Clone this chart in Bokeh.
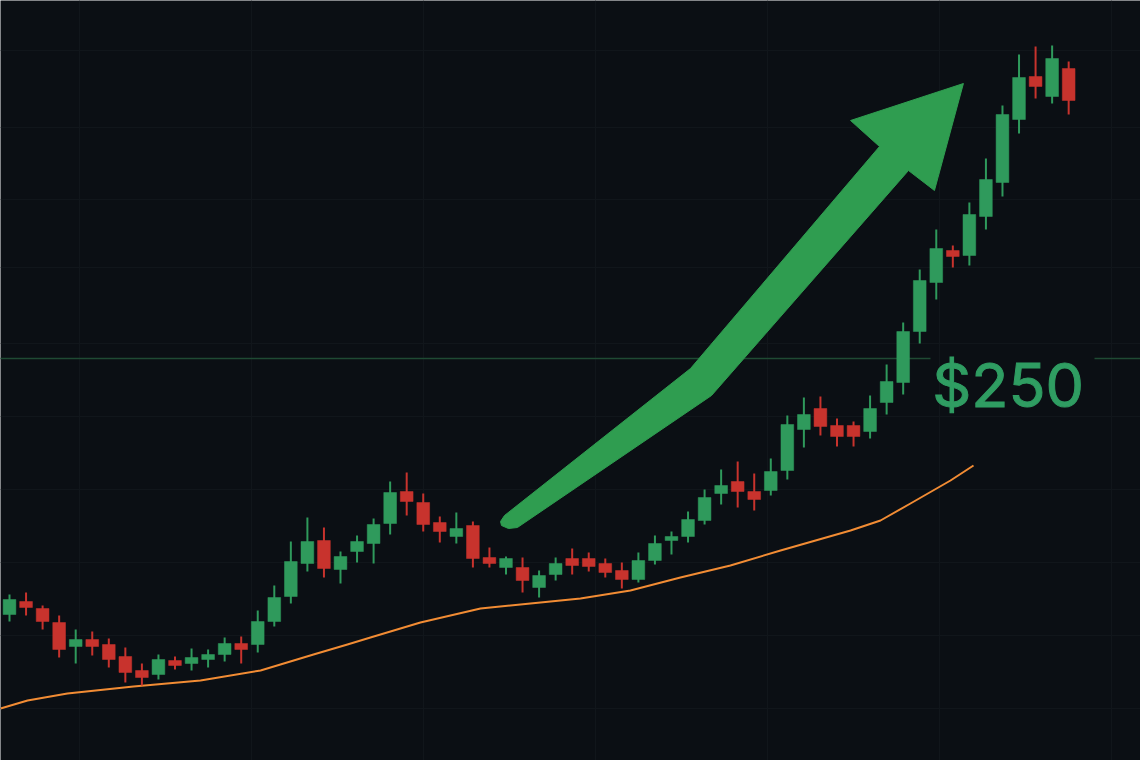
from bokeh.plotting import figure
from bokeh.models import Range1d, Grid, FixedTicker, ColumnDataSource
from bokeh.core.properties import value
from bokeh.embed import file_html
from bokeh.resources import INLINE

# OHLC prices per session
opens = [186.0, 189.25, 187.5, 184.0, 178.0, 179.75, 178.5, 175.5, 172.0, 171.0,
         174.5, 173.75, 174.75, 176.0, 178.75, 178.5, 184.25, 190.5, 198.75, 204.5,
         197.25, 201.75, 203.75, 208.75, 216.75, 214.0, 209.0, 205.5, 208.25, 200.25,
         197.75, 197.75, 192.75, 196.0, 200.0, 200.0, 198.75, 197.0, 194.75, 199.5,
         204.5, 205.5, 209.5, 216.25, 219.25, 216.75, 217.0, 222.0, 232.25, 237.5,
         233.25, 233.25, 231.75, 239.0, 244.0, 256.75, 269.0, 277.0, 275.75, 285.5,
         294.0, 309.75, 320.5, 315.5, 322.5]
highs = [191.0, 191.5, 188.25, 185.75, 182.25, 181.75, 180.0, 177.75, 173.75, 176.0,
         175.5, 177.5, 177.25, 180.25, 180.5, 187.0, 193.25, 204.25, 210.25, 207.75,
         201.75, 205.75, 210.0, 219.25, 221.5, 216.25, 210.5, 211.5, 209.25, 202.75,
         200.5, 200.25, 197.0, 200.25, 202.5, 201.5, 200.0, 199.0, 201.5, 205.75,
         206.75, 211.75, 217.25, 222.25, 224.25, 221.25, 225.0, 235.75, 240.25, 240.5,
         235.0, 234.25, 240.75, 248.5, 259.0, 272.25, 282.25, 278.25, 289.0, 300.0,
         313.25, 326.0, 328.0, 328.25, 324.25]
lows = [184.25, 185.75, 182.25, 175.25, 173.75, 175.75, 172.75, 169.0, 168.25, 169.75,
        172.25, 172.0, 172.75, 174.25, 173.75, 176.5, 183.0, 188.75, 196.75, 195.25,
        193.75, 199.0, 198.75, 206.0, 210.75, 206.75, 204.0, 203.75, 197.75, 197.75,
        196.0, 191.5, 190.25, 194.5, 196.0, 196.75, 195.25, 192.5, 194.0, 198.5,
        201.0, 204.0, 208.5, 213.5, 212.75, 212.0, 215.75, 219.75, 227.75, 230.75,
        228.0, 228.0, 230.0, 236.0, 241.0, 253.75, 264.75, 272.75, 273.25, 282.25,
        290.5, 306.25, 315.0, 313.75, 311.0]
closes = [189.75, 187.75, 184.25, 177.25, 179.75, 178.0, 174.75, 171.5, 170.25, 174.75,
          173.25, 175.25, 176.0, 178.75, 177.25, 184.25, 190.25, 199.25, 204.25, 197.5,
          200.5, 204.25, 208.5, 216.5, 214.25, 208.5, 206.75, 207.5, 200.0, 198.75,
          200.0, 194.5, 195.75, 198.75, 198.25, 198.0, 196.5, 194.75, 199.5, 203.75,
          205.5, 209.75, 215.25, 218.25, 216.75, 214.75, 221.75, 233.5, 236.0, 233.0,
          230.5, 230.5, 237.5, 244.25, 256.75, 269.5, 277.5, 275.5, 286.0, 294.75,
          311.0, 320.25, 318.0, 325.0, 314.5]

# Trailing moving average (session position, price)
ma_x = [-0.54, 1.09, 3.50, 7.49, 11.54, 15.17, 16.37, 18.37, 20.42, 21.81,
        24.83, 28.46, 31.48, 34.50, 37.52, 40.54, 43.56, 46.59, 50.82, 52.63,
        54.44, 56.86, 58.25]
ma_y = [162.5, 164.5, 166.25, 168.0, 169.5, 172.0, 173.5, 176.0, 178.5, 180.25,
        184.0, 187.5, 188.75, 190.0, 192.0, 195.25, 198.25, 202.0, 207.0, 209.5,
        213.75, 219.5, 223.25]

level_price = 250
level_label = "$250"

BG = "#0b0f14"
UP = "#2f9a5c"
DOWN = "#c8332d"
GRID = "#11161b"

idx = list(range(len(opens)))
colors = [UP if c >= o else DOWN for o, c in zip(opens, closes)]
src = ColumnDataSource(dict(
    x=idx,
    top=[max(o, c) for o, c in zip(opens, closes)],
    bottom=[min(o, c) for o, c in zip(opens, closes)],
    high=highs, low=lows, color=colors,
))

p = figure(width=1140, height=760, output_backend="svg", toolbar_location=None,
           x_range=Range1d(-0.544, 68.34), y_range=Range1d(149.5, 339.5),
           x_axis_location=None, y_axis_location=None, min_border=0)
p.background_fill_color = BG
p.border_fill_color = BG
p.outline_line_color = None
p.grid.visible = False

# faint chart grid
p.add_layout(Grid(dimension=0, ticker=FixedTicker(ticks=[4.23, 14.62, 25.0, 35.4, 45.8, 56.2, 66.6]),
                  grid_line_color=GRID, grid_line_width=1))
p.add_layout(Grid(dimension=1, ticker=FixedTicker(ticks=[327.0, 307.75, 289.75, 272.75, 253.75,
                                                         235.5, 217.25, 199.0, 180.75, 162.5]),
                  grid_line_color=GRID, grid_line_width=1))

# price level line
p.segment(x0=-1, x1=55.65, y0=level_price, y1=level_price, line_color="#1f4a33", line_width=1.5)
p.segment(x0=65.56, x1=70, y0=level_price, y1=level_price, line_color="#1f4a33", line_width=1.5)

# moving average
p.line(ma_x, ma_y, line_color="#f28c34", line_width=2, line_join="round")

# candles
p.segment(x0="x", x1="x", y0="low", y1="high", line_color="color", line_width=2, source=src)
p.vbar(x="x", width=0.77, top="top", bottom="bottom", fill_color="color",
       line_color="color", line_width=0.5, source=src)

# trend arrow
arrow_x = [29.67, 29.91, 41.15, 52.57, 50.82, 57.64, 55.89, 54.32, 42.42, 30.69, 30.15, 29.73]
arrow_y = [209.25, 210.75, 247.5, 303.0, 309.5, 318.75, 292.0, 297.0, 240.75, 207.75, 207.5, 208.25]
p.patch(arrow_x, arrow_y, fill_color="#2f9d50", line_color="#2f9d50", line_width=1)

p.text(x=[55.75], y=[243.5], text=[level_label], text_font=value("Inter"),
       text_font_size="61px", text_color="#2f9d62", text_outline_color="#2f9d62",
       text_align="left", text_baseline="alphabetic")

open("out.html", "w").write(file_html(p, INLINE))
